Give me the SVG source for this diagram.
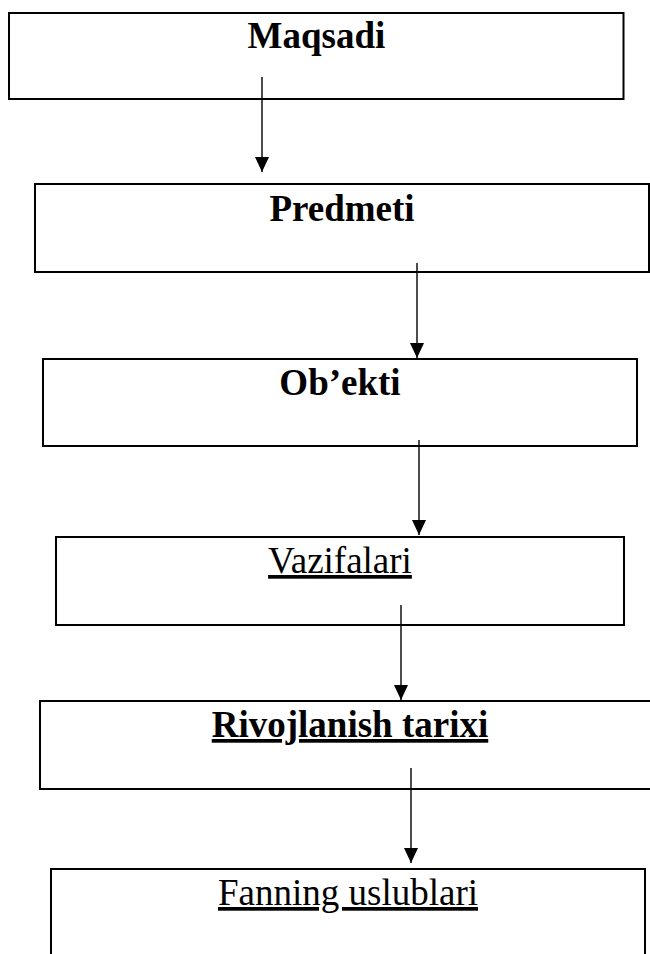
<svg xmlns="http://www.w3.org/2000/svg" width="650" height="954" viewBox="0 0 650 954">
<defs>
<marker id="ah" markerUnits="userSpaceOnUse" markerWidth="16" markerHeight="14" refX="15" refY="7" orient="auto" viewBox="0 0 16 14">
<path d="M0,0 L15,7 L0,14 z" fill="#000"/>
</marker>
<style>
.box{fill:#fff;stroke:#000;stroke-width:2}
.t{font-family:"Liberation Serif","Times New Roman",serif;font-size:37px;fill:#000;text-anchor:middle}
.b{font-weight:bold}
.u{text-decoration:underline}
.c{stroke:#000;stroke-width:1.4;fill:none;marker-end:url(#ah)}
</style>
</defs>
<rect width="650" height="954" fill="#fff"/>
<g id="n1"><rect class="box" x="9" y="13" width="614.5" height="86"/><text class="t b" x="316.5" y="48">Maqsadi</text></g>
<g id="n2"><rect class="box" x="35" y="184" width="614" height="88"/><text class="t b" x="342" y="221">Predmeti</text></g>
<g id="n3"><rect class="box" x="43" y="359" width="594" height="87"/><text class="t b" x="340" y="395">Ob’ekti</text></g>
<g id="n4"><rect class="box" x="56" y="537" width="568" height="88"/><text class="t u" x="340" y="573">Vazifalari</text></g>
<g id="n5"><rect class="box" x="40" y="701" width="620" height="88"/><text class="t b u" x="350" y="737">Rivojlanish tarixi</text></g>
<g id="n6"><rect class="box" x="51" y="869" width="594" height="100"/><text class="t u" x="348" y="905">Fanning uslublari</text></g>
<g id="connectors">
<line class="c" x1="262" y1="77" x2="262" y2="172"/>
<line class="c" x1="417" y1="263" x2="417" y2="358"/>
<line class="c" x1="419" y1="440" x2="419" y2="535"/>
<line class="c" x1="401" y1="605" x2="401" y2="700"/>
<line class="c" x1="411" y1="768" x2="411" y2="863"/>
</g>
</svg>
